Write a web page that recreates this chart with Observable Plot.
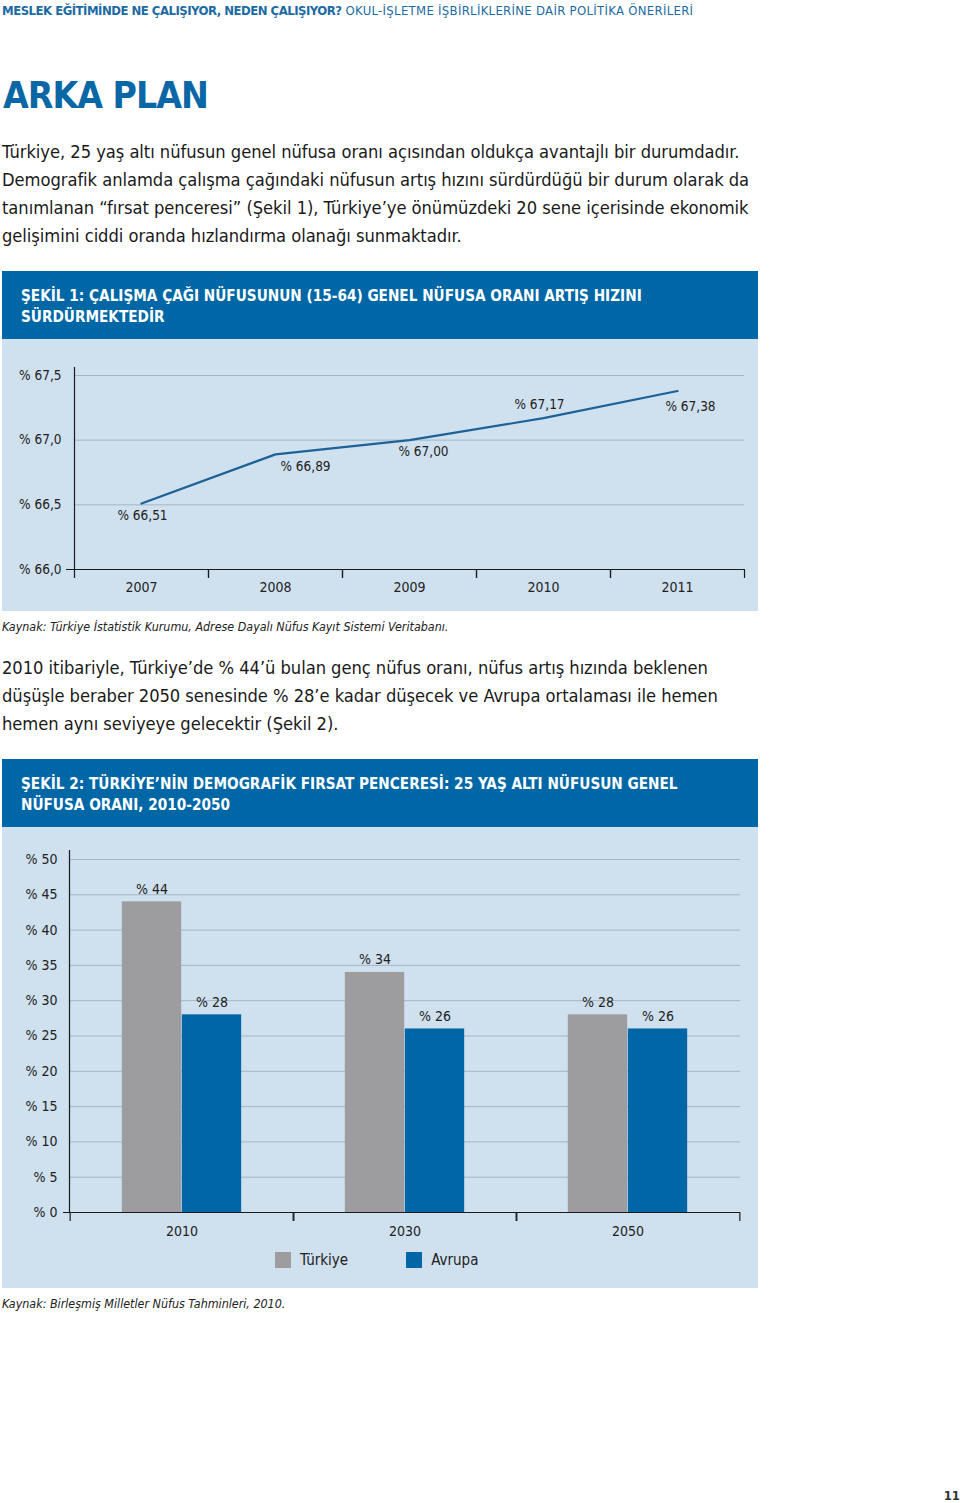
<!DOCTYPE html>
<html><head><meta charset="utf-8">
<script src="https://cdn.jsdelivr.net/npm/d3@7"></script>
<script src="https://cdn.jsdelivr.net/npm/@observablehq/plot@0.6"></script>
<style>
body{margin:0;background:#fff;width:960px;height:1503px;position:relative;overflow:hidden;
 font-family:"Liberation Sans Narrow","DejaVu Sans Condensed","Roboto",sans-serif;color:#1a1a1a}
.abs{position:absolute;white-space:nowrap}
.hdr{top:3px;left:2px;font-size:13px;line-height:16px;color:#1c6aa3;letter-spacing:0.3px}
.hdr b{letter-spacing:-0.5px}
.h1{top:75px;left:3px;font-size:37px;line-height:42px;font-weight:bold;color:#0a67a6;letter-spacing:-1px}
.para{left:2px;font-size:18.2px;line-height:28px;color:#1a1a1a;letter-spacing:-0.05px}
.box{left:2px;width:756px;height:68px;background:#0067a6;color:#fff;font-weight:bold;font-size:15.2px;line-height:21px;box-sizing:border-box;padding:15px 0 0 19px}
.panel{left:2px;width:756px;background:#cfe0ee}
.cap{left:2px;font-size:12.4px;font-style:italic;color:#222}
.legend{display:flex;align-items:center;font-size:15px;color:#222}
.legend .sw{width:16px;height:16px;margin-right:9px}
.legend .it{display:flex;align-items:center;margin-right:0}
</style></head><body>

<div class="abs hdr"><b>MESLEK EĞİTİMİNDE NE ÇALIŞIYOR, NEDEN ÇALIŞIYOR?</b> OKUL-İŞLETME İŞBİRLİKLERİNE DAİR POLİTİKA ÖNERİLERİ</div>
<div class="abs h1">ARKA PLAN</div>
<div class="abs para" style="top:138px">Türkiye, 25 yaş altı nüfusun genel nüfusa oranı açısından oldukça avantajlı bir durumdadır.<br>Demografik anlamda çalışma çağındaki nüfusun artış hızını sürdürdüğü bir durum olarak da<br>tanımlanan “fırsat penceresi” (Şekil 1), Türkiye’ye önümüzdeki 20 sene içerisinde ekonomik<br>gelişimini ciddi oranda hızlandırma olanağı sunmaktadır.</div>

<div class="abs box" style="top:271px">ŞEKİL 1: ÇALIŞMA ÇAĞI NÜFUSUNUN (15-64) GENEL NÜFUSA ORANI ARTIŞ HIZINI<br>SÜRDÜRMEKTEDİR</div>
<div class="abs panel" id="chart1" style="top:339px;height:272px"></div>
<div class="abs cap" style="top:619px">Kaynak: Türkiye İstatistik Kurumu, Adrese Dayalı Nüfus Kayıt Sistemi Veritabanı.</div>

<div class="abs para" style="top:654px">2010 itibariyle, Türkiye’de % 44’ü bulan genç nüfus oranı, nüfus artış hızında beklenen<br>düşüşle beraber 2050 senesinde % 28’e kadar düşecek ve Avrupa ortalaması ile hemen<br>hemen aynı seviyeye gelecektir (Şekil 2).</div>

<div class="abs box" style="top:759px">ŞEKİL 2: TÜRKİYE’NİN DEMOGRAFİK FIRSAT PENCERESİ: 25 YAŞ ALTI NÜFUSUN GENEL<br>NÜFUSA ORANI, 2010-2050</div>
<div class="abs panel" id="chart2" style="top:827px;height:461px"></div>
<div class="abs cap" style="top:1296px">Kaynak: Birleşmiş Milletler Nüfus Tahminleri, 2010.</div>

<div class="abs" style="top:1488px;right:0;font-size:13px;font-weight:bold;color:#333">11</div>

<script>
// ---- Chart 1 data ----
const years1 = [2007, 2008, 2009, 2010, 2011];
const ratio1 = [66.51, 66.89, 67.00, 67.17, 67.38];
const yTicks1 = [66.0, 66.5, 67.0, 67.5];

// ---- Chart 2 data ----
const years2 = ["2010", "2030", "2050"];
const seriesNames = ["Türkiye", "Avrupa"];
const turkiye = [44, 34, 28];
const avrupa = [28, 26, 26];
const yTicks2 = [0, 5, 10, 15, 20, 25, 30, 35, 40, 45, 50];

// label nudges (style only)
const nudge1 = [[1, 12], [30, 12], [14, 12], [-4, -14], [13, 16]];

const FONT = getComputedStyle(document.body).fontFamily;
const axisColor = "#1a1a1a";
const gridColor = "#a3b6c5";
const lineColor = "#1d6196";
const colors = {"Türkiye": "#9d9d9f", "Avrupa": "#0066a6"};

// ---- Chart 1 ----
{
  const W = 756, H = 272, mL = 72, mR = 14, mT = 28, mB = 42;
  const step = (W - mL - mR) / years1.length;
  const rows = years1.map((y, i) => ({year: y, value: ratio1[i]}));
  const fmtTick = d => "% " + d.toFixed(1).replace(".", ",");
  const fmtVal = d => "% " + d.toFixed(2).replace(".", ",");
  const plot = Plot.plot({
    width: W, height: H, marginLeft: mL, marginRight: mR, marginTop: mT, marginBottom: mB,
    style: {background: "transparent", fontFamily: FONT, fontSize: "14px", color: "#222"},
    x: {type: "band", domain: years1, padding: 0, label: null},
    y: {domain: [66, 67.5], insetTop: 8, label: null},
    marks: [
      Plot.gridY(yTicks1, {stroke: gridColor, strokeOpacity: 1, strokeWidth: 1}),
      Plot.axisY({ticks: yTicks1, tickSize: 0, tickPadding: 13, tickFormat: fmtTick, fontSize: 13.5, label: null}),
      Plot.axisX({tickSize: 0, tickPadding: 13, fontSize: 14, label: null, tickFormat: d => String(d)}),
      Plot.axisX({tickSize: 9, tickFormat: () => "", dx: step / 2, stroke: axisColor, strokeWidth: 1.2, label: null}),
      Plot.axisX({tickSize: 9, tickFormat: () => "", dx: -step / 2, stroke: axisColor, strokeWidth: 1.2, label: null}),
      Plot.frame({anchor: "left", stroke: axisColor, strokeWidth: 1.2}),
      Plot.ruleY([66], {stroke: axisColor, strokeWidth: 1.2, insetLeft: -8}),
      Plot.line(rows, {x: "year", y: "value", stroke: lineColor, strokeWidth: 2.2}),
      ...rows.map((r, i) => Plot.text([r], {x: "year", y: "value", text: d => fmtVal(d.value),
        dx: nudge1[i][0], dy: nudge1[i][1], fontSize: 13.5, fill: "#222"}))
    ]
  });
  document.getElementById("chart1").appendChild(plot);
}

// ---- Chart 2 ----
{
  const W = 756, H = 415, mL = 67, mR = 18, mT = 23, mB = 30;
  const step = (W - mL - mR) / years2.length;
  const barW = 60;
  const gap = (step - 2 * barW) / 2;
  const tRows = years2.map((y, i) => ({year: y, value: turkiye[i], series: seriesNames[0]}));
  const aRows = years2.map((y, i) => ({year: y, value: avrupa[i], series: seriesNames[1]}));
  const fmt = d => "% " + d;
  const plot = Plot.plot({
    width: W, height: H, marginLeft: mL, marginRight: mR, marginTop: mT, marginBottom: mB,
    style: {background: "transparent", fontFamily: FONT, fontSize: "14px", color: "#222"},
    x: {type: "band", domain: years2, padding: 0, label: null},
    y: {domain: [0, 50], insetTop: 9, label: null},
    marks: [
      Plot.gridY(yTicks2, {stroke: gridColor, strokeOpacity: 1, strokeWidth: 1}),
      Plot.barY(tRows, {x: "year", y: "value", fill: colors["Türkiye"], insetLeft: gap, insetRight: gap + barW}),
      Plot.barY(aRows, {x: "year", y: "value", fill: colors["Avrupa"], insetLeft: gap + barW, insetRight: gap}),
      Plot.text(tRows, {x: "year", y: "value", text: d => fmt(d.value), dx: -barW / 2, dy: -8, lineAnchor: "bottom", fontSize: 14, fill: "#222"}),
      Plot.text(aRows, {x: "year", y: "value", text: d => fmt(d.value), dx: barW / 2, dy: -8, lineAnchor: "bottom", fontSize: 14, fill: "#222"}),
      Plot.axisY({ticks: yTicks2, tickSize: 0, tickPadding: 12, tickFormat: fmt, fontSize: 14, label: null}),
      Plot.axisX({tickSize: 0, tickPadding: 14, fontSize: 14, label: null}),
      Plot.axisX({tickSize: 9, tickFormat: () => "", dx: step / 2, stroke: axisColor, strokeWidth: 1.2, label: null}),
      Plot.axisX({tickSize: 9, tickFormat: () => "", dx: -step / 2, stroke: axisColor, strokeWidth: 1.2, label: null}),
      Plot.frame({anchor: "left", stroke: axisColor, strokeWidth: 1.2}),
      Plot.ruleY([0], {stroke: axisColor, strokeWidth: 1.2, insetLeft: -6})
    ]
  });
  const host = document.getElementById("chart2");
  host.appendChild(plot);
  const leg = document.createElement("div");
  leg.className = "legend";
  leg.style.position = "absolute";
  leg.style.top = "424px";
  leg.style.left = "273px";
  seriesNames.forEach((name, i) => {
    const it = document.createElement("div");
    it.className = "it";
    it.style.marginRight = i === 0 ? "58px" : "0";
    it.innerHTML = `<div class="sw" style="background:${colors[name]}"></div><span>${name}</span>`;
    leg.appendChild(it);
  });
  host.appendChild(leg);
}
</script>
</body></html>
